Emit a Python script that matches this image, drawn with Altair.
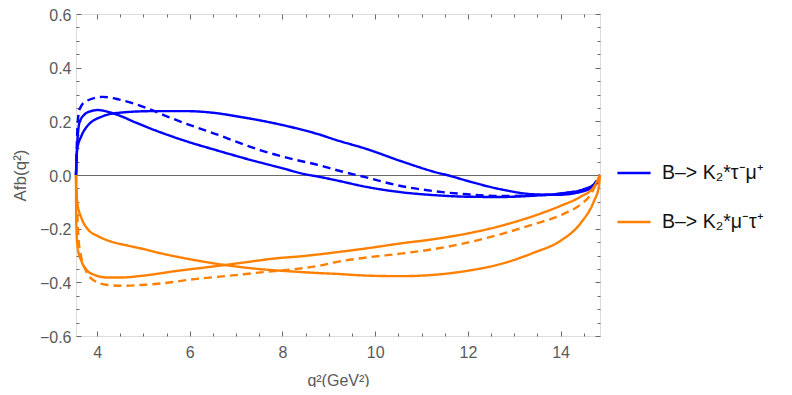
import altair as alt
import pandas as pd

# ---- labels ----
LABEL_TM = "B–> K₂*τ⁻μ⁺"
LABEL_MT = "B–> K₂*μ⁻τ⁺"

# ---- tick values ----
x_major = [4, 6, 8, 10, 12, 14]
x_minor = [4.5, 5, 5.5, 6.5, 7, 7.5, 8.5, 9, 9.5, 10.5, 11, 11.5, 12.5, 13, 13.5, 14.5]
y_major = [-0.6, -0.4, -0.2, 0.0, 0.2, 0.4, 0.6]
y_minor = [-0.55, -0.5, -0.45, -0.35, -0.3, -0.25, -0.15, -0.1, -0.05,
           0.05, 0.1, 0.15, 0.25, 0.3, 0.35, 0.45, 0.5, 0.55]

# ---- blue (tau- mu+) curves ----
blue_a_x = [3.545, 3.57, 3.62, 3.73, 3.85, 4.01, 4.41, 4.84, 5.2, 5.92, 6.64, 7.0, 7.53,
            8.0, 8.46, 8.83, 9.11, 9.83, 10.55, 11.27, 11.99, 12.7, 13.43, 14.0, 14.5, 14.79, 14.85]
blue_a_y = [0.0, 0.108, 0.195, 0.226, 0.237, 0.242, 0.226, 0.195, 0.17, 0.126, 0.089, 0.071, 0.046,
            0.025, 0.004, -0.008, -0.018, -0.045, -0.064, -0.075, -0.081, -0.082, -0.077, -0.069,
            -0.053, -0.024, 0.0]

blue_b_x = [3.545, 3.57, 3.66, 3.76, 4.12, 4.48, 5.2, 5.92, 6.64, 7.0, 7.53, 8.25, 8.83,
            9.11, 9.83, 10.55, 11.27, 11.63, 11.99, 12.7, 13.43, 13.93, 14.5, 14.79, 14.85]
blue_b_y = [0.0, 0.095, 0.145, 0.176, 0.219, 0.232, 0.238, 0.238, 0.229, 0.219, 0.203, 0.176, 0.149,
            0.133, 0.096, 0.052, 0.012, -0.004, -0.022, -0.053, -0.072, -0.074, -0.06, -0.029, 0.0]

blue_d_x = [3.545, 3.58, 3.62, 3.76, 4.12, 4.48, 5.06, 5.56, 6.1, 6.64, 7.0, 7.53, 8.25, 8.83,
            9.11, 9.83, 10.55, 11.27, 11.99, 12.7, 13.43, 14.14, 14.64, 14.85]
blue_d_y = [0.0, 0.19, 0.244, 0.275, 0.291, 0.281, 0.25, 0.215, 0.18, 0.148, 0.124, 0.092, 0.058, 0.035,
            0.021, -0.01, -0.041, -0.06, -0.072, -0.078, -0.076, -0.066, -0.047, 0.0]

# ---- orange (mu- tau+) curves ----
orange_c_x = [3.545, 3.55, 3.58, 3.66, 3.8, 4.01, 4.3, 4.66, 4.95, 5.38, 6.1, 6.82, 7.53, 8.25, 8.83,
              9.11, 9.83, 10.55, 11.27, 11.99, 12.7, 13.43, 14.0, 14.43, 14.72, 14.82, 14.85]
orange_c_y = [0.0, -0.047, -0.109, -0.159, -0.202, -0.227, -0.248, -0.263, -0.274, -0.292, -0.317, -0.337,
              -0.351, -0.36, -0.366, -0.368, -0.375, -0.377, -0.372, -0.357, -0.332, -0.289, -0.245,
              -0.18, -0.097, -0.047, 0.0]

orange_d_x = [3.545, 3.55, 3.58, 3.66, 3.76, 3.94, 4.23, 4.52, 4.95, 5.74, 6.46, 7.17, 7.89, 8.4,
              9.11, 9.83, 10.55, 11.27, 11.99, 12.7, 13.43, 14.0, 14.43, 14.72, 14.85]
orange_d_y = [0.0, -0.171, -0.27, -0.32, -0.351, -0.372, -0.382, -0.382, -0.376, -0.357, -0.342, -0.326,
              -0.31, -0.303, -0.289, -0.273, -0.255, -0.239, -0.218, -0.19, -0.152, -0.115, -0.081, -0.044, 0.0]

orange_e_x = [3.545, 3.6, 3.66, 3.76, 3.94, 4.23, 4.52, 4.95, 5.38, 6.1, 6.82, 7.53, 8.25, 8.83,
              9.11, 9.83, 10.55, 11.27, 11.99, 12.7, 13.43, 14.0, 14.43, 14.64, 14.85]
orange_e_y = [0.0, -0.24, -0.307, -0.357, -0.394, -0.41, -0.413, -0.41, -0.404, -0.388, -0.376, -0.363,
              -0.351, -0.337, -0.326, -0.307, -0.293, -0.276, -0.252, -0.221, -0.183, -0.15, -0.11, -0.075, 0.0]

curves = [
    ("blue_a", LABEL_TM, "solid", blue_a_x, blue_a_y),
    ("blue_b", LABEL_TM, "solid", blue_b_x, blue_b_y),
    ("blue_d", LABEL_TM, "dashed", blue_d_x, blue_d_y),
    ("orange_c", LABEL_MT, "solid", orange_c_x, orange_c_y),
    ("orange_d", LABEL_MT, "solid", orange_d_x, orange_d_y),
    ("orange_e", LABEL_MT, "dashed", orange_e_x, orange_e_y),
]
rows = []
for name, series, style, xs, ys in curves:
    for i, (xv, yv) in enumerate(zip(xs, ys)):
        rows.append({"curve": name, "series": series, "style": style, "q2": xv, "afb": yv, "idx": i})
df = pd.DataFrame(rows)

GRAY = "#6b6b6b"
LABEL_GRAY = "#5a5a5a"
FONT = "Liberation Sans"

XS = alt.Scale(domain=[3.545, 14.85], nice=False, zero=False)
YS = alt.Scale(domain=[-0.6, 0.6], nice=False, zero=False)

zero = alt.Chart(pd.DataFrame({"z": [0.0]})).mark_rule(color=GRAY, strokeWidth=1, yOffset=0.5).encode(
    y=alt.Y("z:Q", scale=YS, axis=None)
)

lines = alt.Chart(df).mark_line(strokeWidth=2.4, interpolate="monotone").encode(
    x=alt.X("q2:Q", scale=XS, axis=alt.Axis(
        orient="bottom", values=x_major, format="d", ticks=False, domain=False, grid=False,
        labelPadding=8, labelFontSize=16, labelColor=LABEL_GRAY, labelFont=FONT,
        title="q²(GeV²)", titleFontSize=16, titleFontWeight="normal", titleColor=LABEL_GRAY,
        titleFont=FONT, titlePadding=12)),
    y=alt.Y("afb:Q", scale=YS, axis=alt.Axis(
        orient="left", values=y_major, format=".1f", ticks=False, domain=False, grid=False,
        labelPadding=5, labelFontSize=16, labelColor=LABEL_GRAY, labelFont=FONT,
        labelBaseline="alphabetic", labelOffset=6,
        title="Afb(q²)", titleFontSize=17, titleFontWeight="normal", titleColor=LABEL_GRAY,
        titleFont=FONT, titlePadding=10)),
    color=alt.Color("series:N", scale=alt.Scale(domain=[LABEL_TM, LABEL_MT], range=["#0000ff", "#ff8000"]),
                    legend=alt.Legend(orient="none", legendX=540, legendY=141, title=None,
                                      symbolType="stroke", symbolSize=1100, symbolStrokeWidth=2.5,
                                      labelFontSize=19.5, labelFont=FONT, labelColor="#111111",
                                      labelOffset=10, rowPadding=21, padding=0)),
    strokeDash=alt.StrokeDash("style:N", scale=alt.Scale(domain=["solid", "dashed"], range=[[1, 0], [8, 5]]),
                              legend=None),
    detail="curve:N",
    order="idx:Q",
)


def tick_layer(xvals, yvals, xo, yo, size):
    common = dict(labels=False, domain=False, grid=False, ticks=True, tickSize=size, offset=-size,
                  tickColor=GRAY, tickWidth=1, title=None)
    return alt.Chart(df).mark_point(opacity=0).encode(
        x=alt.X("q2:Q", scale=XS, axis=alt.Axis(orient=xo, values=xvals, **common)),
        y=alt.Y("afb:Q", scale=YS, axis=alt.Axis(orient=yo, values=yvals, **common)),
    )


t1 = tick_layer(x_major, y_major, "bottom", "left", 5)
t2 = tick_layer(x_minor, y_minor, "bottom", "left", 3)
t3 = tick_layer(x_major, y_major, "top", "right", 5)
t4 = tick_layer(x_minor, y_minor, "top", "right", 3)

chart = alt.layer(zero, lines, t1, t2, t3, t4).resolve_axis(
    x="independent", y="independent"
).properties(
    width=524, height=322,
    autosize=alt.AutoSizeParams(type="none"),
    padding={"left": 68, "top": 6, "right": 184, "bottom": 51},
).configure_view(stroke=GRAY, strokeWidth=1).configure(font=FONT)

chart.save("out.html", embed_options={"renderer": "svg", "actions": False})
